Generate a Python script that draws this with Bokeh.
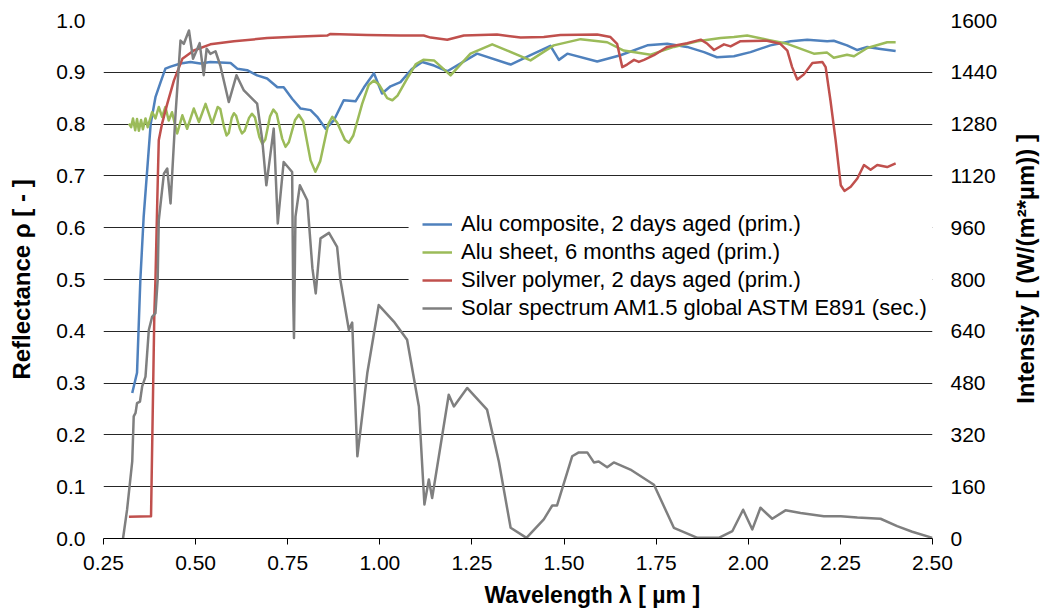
import math
from bokeh.plotting import figure
from bokeh.layouts import row
from bokeh.models import (Range1d, LinearAxis, FixedTicker, NumeralTickFormatter,
                          Legend, LegendItem, BoxAnnotation, Title)
from bokeh.core.properties import value
from bokeh.embed import file_html
from bokeh.resources import INLINE

# ---------------- data ----------------
alu_comp_x = [0.328, 0.341, 0.350, 0.359, 0.378, 0.391, 0.405, 0.418, 0.432, 0.459, 0.486, 0.513,
              0.540, 0.595, 0.613, 0.640, 0.667, 0.694, 0.722, 0.739, 0.762, 0.785, 0.812, 0.830,
              0.853, 0.875, 0.902, 0.934, 0.957, 0.984, 1.006, 1.029, 1.056, 1.088, 1.115, 1.147,
              1.183, 1.264, 1.355, 1.409, 1.463, 1.486, 1.509, 1.590, 1.653, 1.726, 1.780, 1.834,
              1.880, 1.915, 1.961, 2.006, 2.060, 2.115, 2.160, 2.214, 2.232, 2.268, 2.296, 2.323,
              2.359, 2.400]
alu_comp_y = [0.281, 0.320, 0.499, 0.621, 0.800, 0.852, 0.881, 0.907, 0.911, 0.917, 0.920, 0.917,
              0.920, 0.918, 0.907, 0.904, 0.894, 0.888, 0.871, 0.871, 0.849, 0.830, 0.827, 0.814,
              0.791, 0.807, 0.846, 0.844, 0.871, 0.898, 0.859, 0.873, 0.881, 0.907, 0.920, 0.913,
              0.902, 0.936, 0.915, 0.933, 0.951, 0.924, 0.936, 0.921, 0.933, 0.952, 0.955, 0.949,
              0.939, 0.929, 0.931, 0.939, 0.952, 0.960, 0.963, 0.960, 0.961, 0.952, 0.943, 0.949,
              0.945, 0.941]

alu_sheet_x = [0.319, 0.325, 0.330, 0.336, 0.341, 0.346, 0.352, 0.357, 0.364, 0.370, 0.382, 0.391,
               0.400, 0.409, 0.418, 0.427, 0.436, 0.450, 0.464, 0.477, 0.495, 0.509, 0.527, 0.545,
               0.560, 0.567, 0.577, 0.584, 0.590, 0.598, 0.604, 0.610, 0.620, 0.626, 0.633, 0.645,
               0.653, 0.661, 0.673, 0.681, 0.689, 0.702, 0.711, 0.720, 0.735, 0.744, 0.753, 0.770,
               0.780, 0.792, 0.812, 0.825, 0.838, 0.860, 0.871, 0.884, 0.905, 0.916, 0.928, 0.952,
               0.970, 0.984, 0.998, 1.020, 1.034, 1.048, 1.074, 1.098, 1.118, 1.147, 1.192, 1.246,
               1.305, 1.346, 1.409, 1.472, 1.545, 1.617, 1.662, 1.735, 1.798, 1.862, 1.925, 1.961,
               1.997, 2.051, 2.106, 2.178, 2.214, 2.232, 2.268, 2.287, 2.323, 2.377, 2.400]
alu_sheet_y = [0.801, 0.794, 0.811, 0.788, 0.810, 0.787, 0.808, 0.790, 0.811, 0.794, 0.823, 0.811,
               0.833, 0.814, 0.833, 0.807, 0.823, 0.782, 0.817, 0.791, 0.830, 0.804, 0.839, 0.801,
               0.833, 0.829, 0.795, 0.778, 0.783, 0.812, 0.821, 0.816, 0.791, 0.782, 0.787, 0.812,
               0.820, 0.813, 0.775, 0.762, 0.770, 0.815, 0.828, 0.820, 0.772, 0.756, 0.765, 0.808,
               0.818, 0.805, 0.730, 0.708, 0.728, 0.800, 0.814, 0.803, 0.770, 0.764, 0.778, 0.839,
               0.876, 0.884, 0.876, 0.850, 0.846, 0.855, 0.888, 0.916, 0.924, 0.923, 0.894, 0.936,
               0.954, 0.942, 0.923, 0.952, 0.964, 0.958, 0.942, 0.934, 0.949, 0.960, 0.966, 0.968,
               0.971, 0.963, 0.955, 0.936, 0.938, 0.928, 0.934, 0.931, 0.947, 0.958, 0.958]

silver_x = [0.319, 0.379, 0.388, 0.391, 0.396, 0.400, 0.409, 0.423, 0.441, 0.464, 0.495, 0.540,
            0.604, 0.694, 0.785, 0.857, 0.866, 0.966, 1.056, 1.119, 1.138, 1.183, 1.228, 1.318,
            1.382, 1.445, 1.490, 1.590, 1.626, 1.644, 1.658, 1.671, 1.690, 1.703, 1.717, 1.744,
            1.780, 1.834, 1.871, 1.889, 1.907, 1.934, 1.952, 1.979, 2.051, 2.087, 2.106, 2.119,
            2.133, 2.151, 2.174, 2.201, 2.210, 2.223, 2.237, 2.251, 2.261, 2.278, 2.296, 2.314,
            2.332, 2.350, 2.377, 2.400]
silver_y = [0.042, 0.043, 0.435, 0.499, 0.653, 0.769, 0.801, 0.839, 0.884, 0.926, 0.942, 0.954,
            0.960, 0.966, 0.969, 0.971, 0.974, 0.972, 0.971, 0.971, 0.967, 0.963, 0.971, 0.973,
            0.967, 0.968, 0.972, 0.973, 0.968, 0.955, 0.910, 0.915, 0.924, 0.920, 0.924, 0.933,
            0.949, 0.956, 0.963, 0.955, 0.943, 0.954, 0.950, 0.960, 0.961, 0.955, 0.942, 0.910,
            0.886, 0.896, 0.918, 0.920, 0.910, 0.846, 0.769, 0.682, 0.671, 0.679, 0.695, 0.721,
            0.712, 0.721, 0.717, 0.724]

solar_x = [0.303, 0.314, 0.328, 0.332, 0.337, 0.341, 0.349, 0.355, 0.364, 0.373, 0.382, 0.391,
           0.397, 0.400, 0.414, 0.423, 0.432, 0.445, 0.459, 0.468, 0.482, 0.493, 0.511, 0.522,
           0.530, 0.540, 0.554, 0.567, 0.590, 0.611, 0.631, 0.667, 0.681, 0.692, 0.712, 0.723,
           0.739, 0.762, 0.765, 0.767, 0.771, 0.783, 0.803, 0.817, 0.826, 0.839, 0.862, 0.884,
           0.893, 0.916, 0.925, 0.939, 0.966, 0.997, 1.038, 1.074, 1.106, 1.121, 1.133, 1.142,
           1.187, 1.201, 1.237, 1.291, 1.323, 1.355, 1.398, 1.445, 1.468, 1.481, 1.522, 1.540,
           1.563, 1.581, 1.594, 1.617, 1.635, 1.680, 1.744, 1.798, 1.862, 1.920, 1.957, 1.986,
           2.011, 2.033, 2.065, 2.101, 2.142, 2.205, 2.251, 2.296, 2.359, 2.404, 2.445, 2.500]
solar_i = [0, 89, 238, 377, 388, 418, 423, 470, 500, 644, 685, 696,
           798, 983, 1127, 1143, 1035, 1302, 1538, 1528, 1569, 1482, 1530, 1431,
           1513, 1497, 1505, 1461, 1348, 1431, 1384, 1343, 1230, 1091, 1266, 973,
           1163, 1132, 737, 619, 994, 1091, 1045, 835, 757, 927, 944, 901,
           798, 644, 667, 254, 511, 721, 670, 614, 408, 105, 182, 125,
           444, 408, 465, 398, 238, 33, 2, 59, 102, 102, 254, 266,
           266, 235, 238, 220, 235, 213, 166, 33, 2, 2, 23, 89,
           28, 95, 61, 87, 79, 69, 69, 65, 61, 38, 21, 2]

x_ticks = [0.25, 0.50, 0.75, 1.00, 1.25, 1.50, 1.75, 2.00, 2.25, 2.50]
refl_ticks = [0.0, 0.1, 0.2, 0.3, 0.4, 0.5, 0.6, 0.7, 0.8, 0.9, 1.0]
int_ticks = [0, 160, 320, 480, 640, 800, 960, 1120, 1280, 1440, 1600]

names = ["Alu composite, 2 days aged (prim.)",
         "Alu sheet, 6 months aged (prim.)",
         "Silver polymer, 2 days aged (prim.)",
         "Solar spectrum AM1.5 global ASTM E891 (sec.)"]
colors = ["#4F81BD", "#9BBB59", "#C0504D", "#7F7F7F"]
x_title = "Wavelength λ [ µm ]"
left_title = "Reflectance ρ [ - ]"
right_title = "Intensity [ (W/(m²*µm)) ]"

FONT = "Liberation Sans"

# ---------------- main figure ----------------
p = figure(width=1005, height=615, output_backend="svg", toolbar_location=None,
           x_range=Range1d(0.25, 2.5), y_range=Range1d(0.0, 1.0),
           min_border_left=103, min_border_right=73, min_border_top=20, min_border_bottom=76)
p.outline_line_color = None
p.background_fill_color = "white"
p.border_fill_color = "white"

p.extra_y_ranges = {"intensity": Range1d(0, 1600)}

xa = p.xaxis[0]
xa.ticker = FixedTicker(ticks=x_ticks)
xa.formatter = NumeralTickFormatter(format="0.00")
xa.axis_line_color = "#000000"
xa.major_tick_line_color = "#000000"
xa.major_tick_out = 6
xa.major_tick_in = 0
xa.minor_tick_line_color = None
xa.major_label_standoff = 11
xa.major_label_text_font = FONT
xa.major_label_text_font_size = "21px"
xa.major_label_text_color = "#000000"

ya = p.yaxis[0]
ya.ticker = FixedTicker(ticks=refl_ticks)
ya.formatter = NumeralTickFormatter(format="0.0")
ya.axis_line_color = None
ya.major_tick_line_color = None
ya.minor_tick_line_color = None
ya.major_tick_out = 0
ya.major_tick_in = 0
ya.major_label_standoff = 18
ya.major_label_text_font = FONT
ya.major_label_text_font_size = "21px"
ya.major_label_text_color = "#000000"
ya.axis_label = left_title
ya.axis_label_text_font = FONT
ya.axis_label_text_font_style = "bold"
ya.axis_label_text_font_size = "24px"
ya.axis_label_text_color = "#000000"
ya.axis_label_standoff = 18

ra = LinearAxis(y_range_name="intensity", ticker=FixedTicker(ticks=int_ticks),
                formatter=NumeralTickFormatter(format="0"))
ra.axis_line_color = None
ra.major_tick_line_color = None
ra.minor_tick_line_color = None
ra.major_tick_out = 0
ra.major_tick_in = 0
ra.major_label_standoff = 18
ra.major_label_text_font = FONT
ra.major_label_text_font_size = "21px"
ra.major_label_text_color = "#000000"
p.add_layout(ra, "right")

p.xgrid.visible = False
p.ygrid.ticker = FixedTicker(ticks=refl_ticks)
p.ygrid.grid_line_color = "#262626"
p.ygrid.grid_line_width = 1

lw = 2.5
r1 = p.line(alu_comp_x, alu_comp_y, line_color=colors[0], line_width=lw, line_join="round")
r2 = p.line(alu_sheet_x, alu_sheet_y, line_color=colors[1], line_width=lw, line_join="round")
r3 = p.line(silver_x, silver_y, line_color=colors[2], line_width=lw, line_join="round")
r4 = p.line(solar_x, solar_i, line_color=colors[3], line_width=lw, line_join="round",
            y_range_name="intensity")

# white area behind the legend (hides the grid lines there)
p.add_layout(BoxAnnotation(left=1.078, right=2.5, bottom=0.412, top=0.653,
                           fill_color="white", fill_alpha=1.0, line_color=None))

legend = Legend(items=[LegendItem(label=names[i], renderers=[r])
                       for i, r in enumerate([r1, r2, r3, r4])],
                location=(319, 216), orientation="vertical")
legend.background_fill_alpha = 0
legend.border_line_color = None
legend.padding = 5
legend.margin = 0
legend.spacing = 0
legend.glyph_width = 30
legend.glyph_height = 28
legend.label_height = 28
legend.label_standoff = 9
legend.label_text_font = FONT
legend.label_text_font_size = "22px"
legend.label_text_color = "#000000"
p.add_layout(legend, "center")

# x-axis title (below the axis, shifted right like the reference)
p.add_layout(Title(text=x_title, align="left", offset=381, standoff=15,
                   text_font=FONT, text_font_style="bold", text_font_size="23px",
                   text_color="#000000"), "below")

# ---------------- narrow strip holding the secondary-axis title ----------------
q = figure(width=36, height=615, output_backend="svg", toolbar_location=None,
           x_range=Range1d(0, 36), y_range=Range1d(0, 615),
           x_axis_type=None, y_axis_type=None,
           min_border_left=0, min_border_right=0, min_border_top=0, min_border_bottom=0)
q.outline_line_color = None
q.grid.visible = False
q.background_fill_color = "white"
q.border_fill_color = "white"
q.text(x=[20], y=[320], text=[right_title], angle=math.pi / 2,
       text_align="center", text_baseline="middle",
       text_font=value(FONT), text_font_style="bold", text_font_size="24px",
       text_color="#000000")

layout = row(p, q, spacing=0)
open("out.html", "w").write(file_html(layout, INLINE))
